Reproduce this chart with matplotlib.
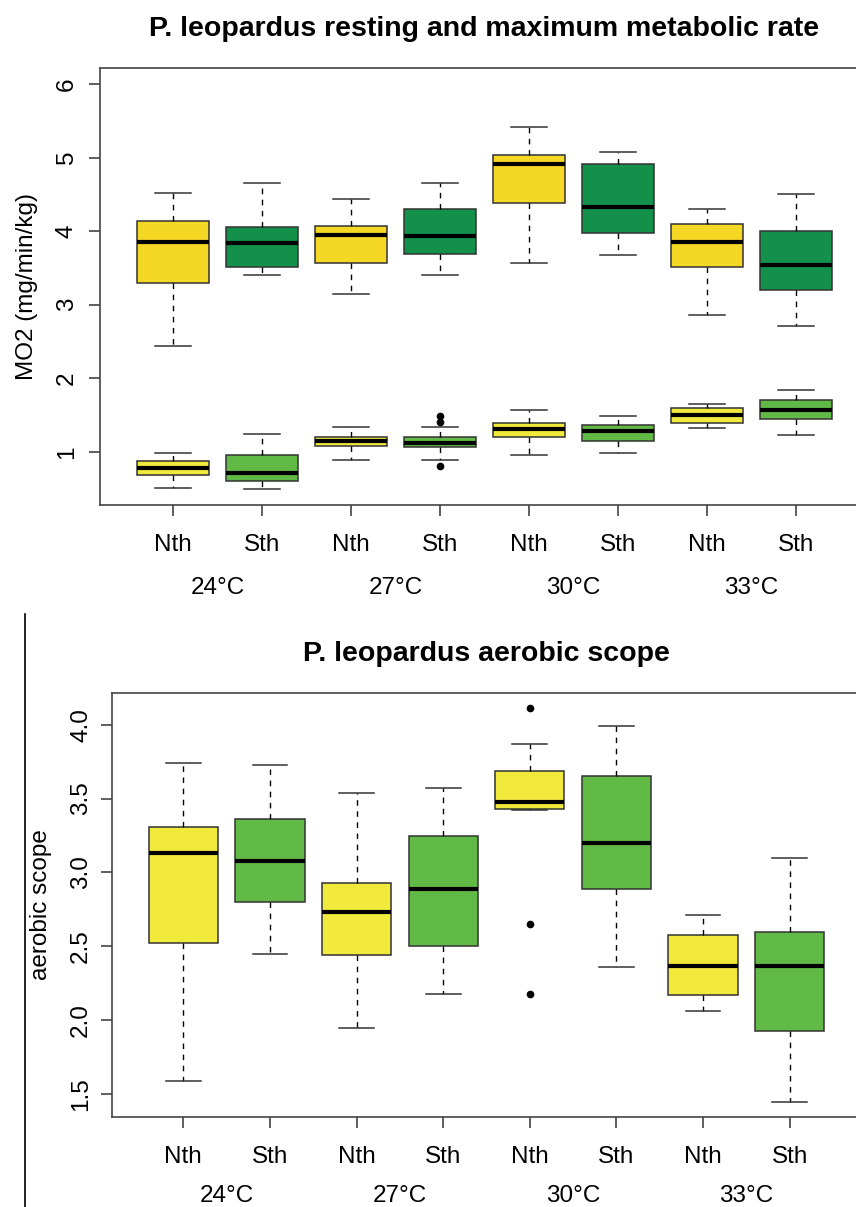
import matplotlib
matplotlib.use("Agg")
import matplotlib.pyplot as plt
from matplotlib.lines import Line2D

plt.rcParams['font.family'] = ['Liberation Sans', 'DejaVu Sans']

groups = ['Nth', 'Sth'] * 4
temps = ['24°C', '27°C', '30°C', '33°C']

# maximum metabolic rate, Nth/Sth at 24, 27, 30, 33 degrees
mmr_lo  = [2.44, 3.40, 3.15, 3.40, 3.57, 3.67, 2.86, 2.71]
mmr_q1  = [3.30, 3.51, 3.57, 3.69, 4.39, 3.98, 3.51, 3.20]
mmr_med = [3.85, 3.84, 3.95, 3.94, 4.92, 4.33, 3.85, 3.54]
mmr_q3  = [4.14, 4.06, 4.07, 4.30, 5.03, 4.91, 4.10, 4.00]
mmr_hi  = [4.52, 4.66, 4.44, 4.65, 5.42, 5.08, 4.30, 4.50]
mmr_out = [[], [], [], [], [], [], [], []]

# resting metabolic rate
rmr_lo  = [0.51, 0.50, 0.89, 0.89, 0.95, 0.99, 1.33, 1.23]
rmr_q1  = [0.68, 0.60, 1.08, 1.06, 1.20, 1.15, 1.39, 1.45]
rmr_med = [0.78, 0.71, 1.14, 1.12, 1.31, 1.28, 1.50, 1.57]
rmr_q3  = [0.87, 0.96, 1.20, 1.20, 1.39, 1.36, 1.60, 1.70]
rmr_hi  = [0.98, 1.24, 1.34, 1.34, 1.57, 1.48, 1.65, 1.84]
rmr_out = [[], [], [], [1.49, 1.41, 0.81], [], [], [], []]

# aerobic scope
as_lo  = [1.59, 2.45, 1.95, 2.18, 3.42, 2.36, 2.06, 1.45]
as_q1  = [2.52, 2.80, 2.44, 2.50, 3.43, 2.89, 2.17, 1.93]
as_med = [3.13, 3.08, 2.73, 2.89, 3.48, 3.20, 2.37, 2.37]
as_q3  = [3.31, 3.36, 2.93, 3.25, 3.69, 3.65, 2.58, 2.60]
as_hi  = [3.74, 3.73, 3.54, 3.57, 3.87, 3.99, 2.71, 3.10]
as_out = [[], [], [], [], [4.11, 2.65, 2.18], [], [], []]

dark_cols = ['#F5D726', '#13904A'] * 4
light_cols = ['#F1EA3C', '#62BA46'] * 4

W, H = 856, 1207
fig = plt.figure(figsize=(W / 100, H / 100), dpi=100)

def make_stats(lo, q1, med, q3, hi, out):
    return [dict(whislo=a, q1=b, med=c, q3=d, whishi=e, fliers=f)
            for a, b, c, d, e, f in zip(lo, q1, med, q3, hi, out)]

def draw(ax, stats, cols):
    bp = ax.bxp(stats, positions=list(range(1, 9)), widths=0.8, capwidths=0.4,
                patch_artist=True,
                boxprops=dict(edgecolor='#333333', linewidth=1.1),
                whiskerprops=dict(color='black', linewidth=1.0, linestyle=(0, (4, 4))),
                capprops=dict(color='#333333', linewidth=1.1),
                medianprops=dict(color='black', linewidth=3.0, solid_capstyle='butt'),
                flierprops=dict(marker='o', markerfacecolor='black',
                                markeredgecolor='black', markersize=4.5))
    for box, c in zip(bp['boxes'], cols):
        box.set_facecolor(c)

def style(ax, title, ticks, fmt, temp_off, ypad):
    ax.set_xlim(0.18, 8.82)
    ax.spines['right'].set_visible(False)
    for s in ax.spines.values():
        s.set_color('#444444')
        s.set_linewidth(1.2)
    ax.set_xticks(list(range(1, 9)))
    ax.set_xticklabels(groups, fontsize=17.5)
    ax.set_yticks(ticks)
    ax.set_yticklabels([fmt.format(t) for t in ticks], fontsize=17.5,
                       rotation=90, va='center')
    ax.tick_params(direction='out', length=8, width=1.1, color='#333333')
    ax.tick_params(axis='x', pad=13)
    ax.tick_params(axis='y', pad=ypad)
    ax.set_title(title, fontsize=20.5, fontweight='bold', pad=23)
    for i, t in enumerate(temps):
        ax.annotate(t, xy=(2 * i + 1.5, 0), xycoords=ax.get_xaxis_transform(),
                    xytext=(0, temp_off), textcoords='offset points',
                    ha='center', va='center', fontsize=17.5)

# top panel: resting and maximum metabolic rate
ax1 = fig.add_axes([100 / W, 1 - 504.7 / H, 769 / W, 436.7 / H])
draw(ax1, make_stats(mmr_lo, mmr_q1, mmr_med, mmr_q3, mmr_hi, mmr_out), dark_cols)
draw(ax1, make_stats(rmr_lo, rmr_q1, rmr_med, rmr_q3, rmr_hi, rmr_out), light_cols)
ax1.set_ylim(0.5 - 0.22, 6 + 0.22)
style(ax1, 'P. leopardus resting and maximum metabolic rate', [1, 2, 3, 4, 5, 6],
      '{:g}', -60, 8)
ax1.set_ylabel('MO2 (mg/min/kg)', fontsize=17.5, labelpad=13)

# bottom panel: aerobic scope
ax2 = fig.add_axes([112.3 / W, 1 - 1117.3 / H, 748.4 / W, 424.6 / H])
draw(ax2, make_stats(as_lo, as_q1, as_med, as_q3, as_hi, as_out), light_cols)
vals = as_lo + as_hi + [v for o in as_out for v in o]
lo, hi = min(vals), max(vals)
pad = 0.04 * (hi - lo)
ax2.set_ylim(lo - pad, hi + pad)
style(ax2, 'P. leopardus aerobic scope', [1.5, 2.0, 2.5, 3.0, 3.5, 4.0],
      '{:.1f}', -56.5, 6.5)
ax2.set_ylabel('aerobic scope', fontsize=17.5, labelpad=13)

fig.add_artist(Line2D([25 / W, 25 / W], [0, 1 - 614 / H], color='black', linewidth=1.2))

fig.savefig('out.png', dpi=100)
